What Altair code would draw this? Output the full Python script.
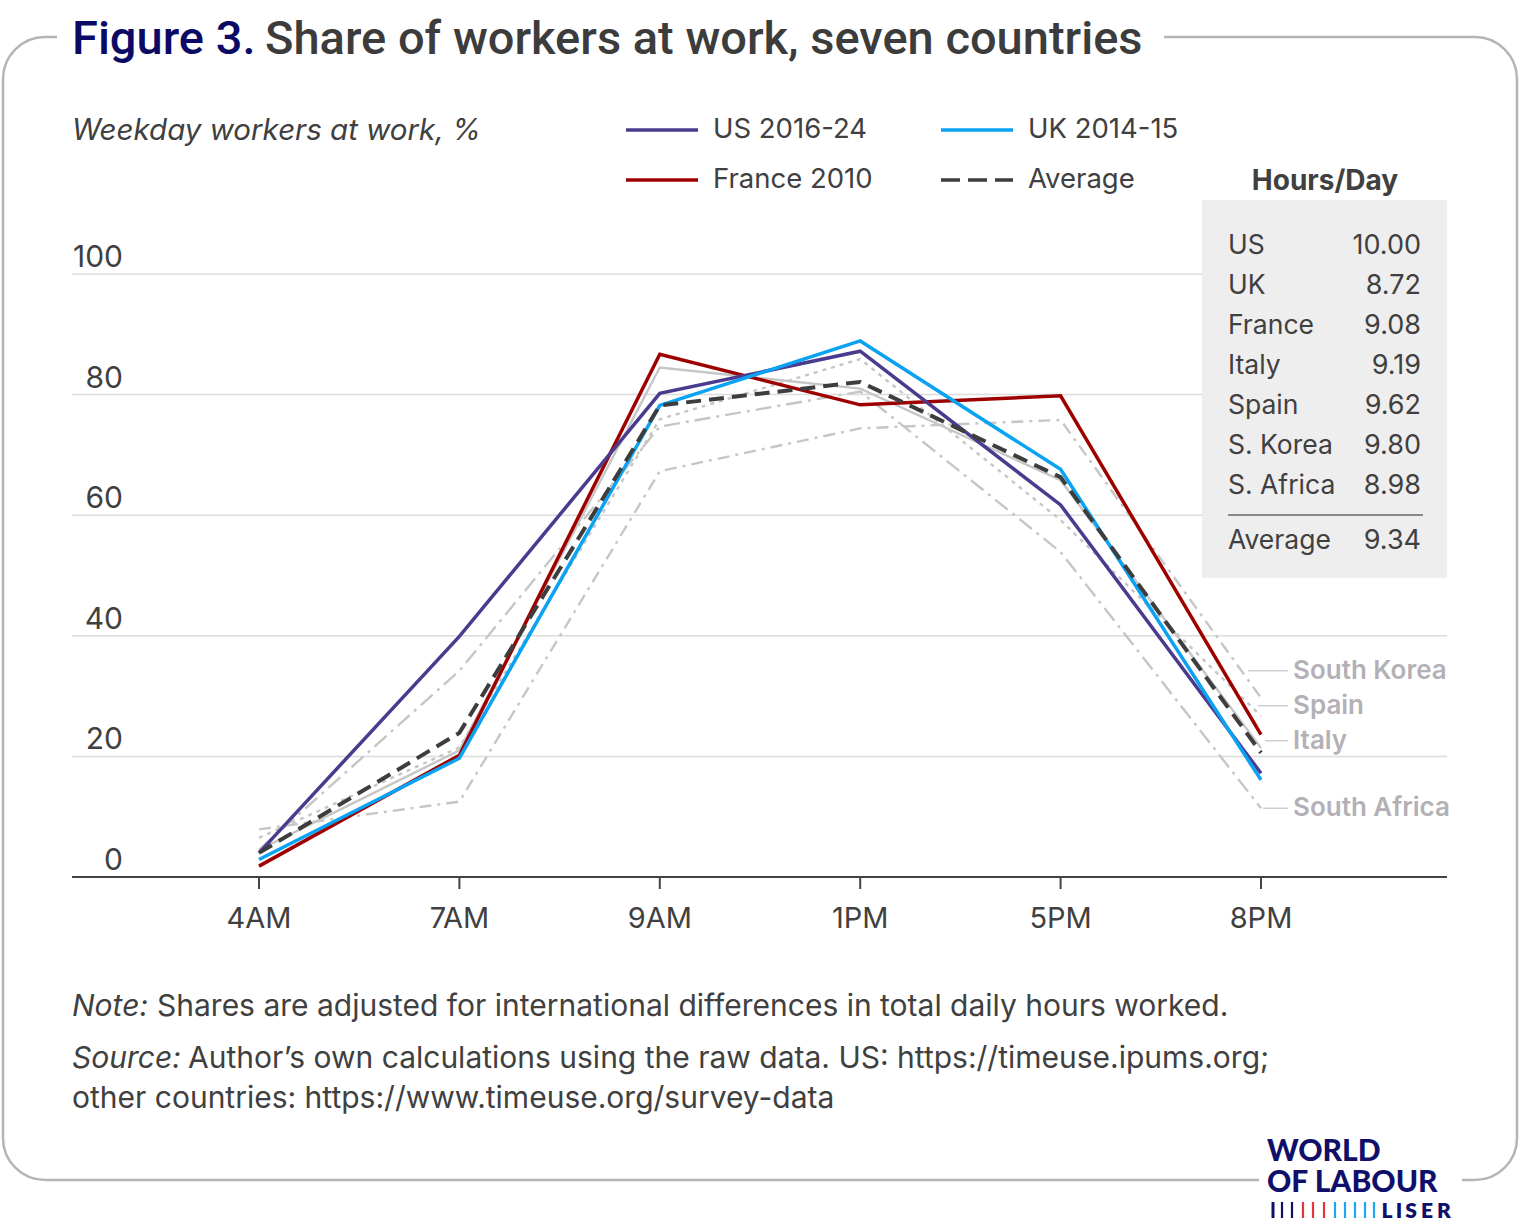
import altair as alt
import pandas as pd

# ---------------- data ----------------
times = ["4AM", "7AM", "9AM", "1PM", "5PM", "8PM"]
us = [4.0, 39.9, 80.2, 87.2, 61.7, 17.2]
uk = [2.9, 19.7, 78.2, 88.9, 67.6, 16.1]
france = [1.8, 20.2, 86.7, 78.3, 79.8, 23.6]
italy = [4.5, 21.0, 84.5, 81.0, 65.8, 21.4]
spain = [6.5, 21.5, 75.9, 85.9, 59.2, 26.7]
south_korea = [7.9, 12.5, 67.3, 74.4, 75.8, 29.7]
south_africa = [4.5, 34.2, 74.7, 80.5, 53.9, 11.4]
average = [4.0, 23.9, 78.2, 82.1, 66.3, 20.6]

y_ticks = [0, 20, 40, 60, 80, 100]

table_names = ["US", "UK", "France", "Italy", "Spain", "S. Korea", "S. Africa"]
table_hours = [10.00, 8.72, 9.08, 9.19, 9.62, 9.80, 8.98]
table_avg_name = "Average"
table_avg = 9.34

grey_labels = ["South Korea", "Spain", "Italy", "South Africa"]
grey_label_values = [34.2, 28.4, 22.6, 11.4]

# ---------------- styles ----------------
FONT = "Inter"
TXT = "#404040"
GREY = "#c6c6c6"
W, H = 1520, 1224

X_SCALE = alt.Scale(type="point", domain=times, range=[259, 1261], padding=0)
Y_SCALE = alt.Scale(domain=[0, 100], range=[877, 274], nice=False, zero=False)

dummy = pd.DataFrame({"a": [0]})


def txt(text, x, y, size=27, color=TXT, align="left", baseline="alphabetic",
        weight="normal", style="normal", font=FONT):
    return alt.Chart(dummy).mark_text(
        text=text, align=align, baseline=baseline, fontSize=size, color=color,
        fontWeight=weight, fontStyle=style, font=font
    ).encode(x=alt.value(x), y=alt.value(y))


def hrule(x1, x2, y, color, width, dash=None):
    kw = dict(color=color, strokeWidth=width)
    if dash:
        kw["strokeDash"] = dash
    return alt.Chart(dummy).mark_rule(**kw).encode(
        x=alt.value(x1), x2=alt.value(x2), y=alt.value(y))


def vrule(x, y1, y2, color, width):
    return alt.Chart(dummy).mark_rule(color=color, strokeWidth=width).encode(
        x=alt.value(x), y=alt.value(y1), y2=alt.value(y2))


layers = []

# border box
layers.append(
    alt.Chart(dummy).mark_rect(fill="white", stroke="#b5b5b5", strokeWidth=2.5,
                               cornerRadius=42).encode(
        x=alt.value(3), x2=alt.value(1517), y=alt.value(37), y2=alt.value(1180))
)
# gaps in border for title and logo
layers.append(alt.Chart(dummy).mark_rect(fill="white").encode(
    x=alt.value(57), x2=alt.value(1164), y=alt.value(10), y2=alt.value(64)))
layers.append(alt.Chart(dummy).mark_rect(fill="white").encode(
    x=alt.value(1259), x2=alt.value(1462), y=alt.value(1130), y2=alt.value(1222)))

# title
layers.append(txt("Figure 3.", 72, 54, size=47, color="#0b0b66", weight=500,
                  font="Roboto"))
layers.append(txt("Share of workers at work, seven countries", 265, 54, size=47,
                  color="#3c3c3c", weight=500, font="Roboto"))

# subtitle
layers.append(txt("Weekday workers at work, %", 72, 140, size=29.5, style="italic"))

# gridlines
grid_df = pd.DataFrame({"v": y_ticks[1:]})
layers.append(alt.Chart(grid_df).mark_rule(color="#dcdcdc", strokeWidth=1.5).encode(
    x=alt.value(72), x2=alt.value(1447),
    y=alt.Y("v:Q", scale=Y_SCALE, axis=None)))

# y labels
ylab_df = pd.DataFrame({"v": y_ticks})
layers.append(alt.Chart(ylab_df).mark_text(
    align="right", baseline="alphabetic", dy=-7, fontSize=30, font=FONT, color=TXT
).encode(x=alt.value(123), y=alt.Y("v:Q", scale=Y_SCALE, axis=None),
         text=alt.Text("v:Q", format="d")))

# hours/day table
layers.append(alt.Chart(dummy).mark_rect(fill="#eeeeee").encode(
    x=alt.value(1202), x2=alt.value(1447), y=alt.value(200), y2=alt.value(578)))
layers.append(txt("Hours/Day", 1325, 190, size=28, weight="bold", align="center"))
tab_df = pd.DataFrame({"row": list(range(len(table_names))),
                       "name": table_names, "hours": table_hours})
ROW_SCALE = alt.Scale(domain=[0, len(table_names) - 1], range=[246, 486], nice=False, zero=False)
layers.append(alt.Chart(tab_df).mark_text(
    align="left", baseline="middle", fontSize=26.5, font=FONT, color=TXT).encode(
    x=alt.value(1228), y=alt.Y("row:Q", scale=ROW_SCALE, axis=None), text="name:N"))
layers.append(alt.Chart(tab_df).mark_text(
    align="right", baseline="middle", fontSize=27, font=FONT, color=TXT).encode(
    x=alt.value(1421), y=alt.Y("row:Q", scale=ROW_SCALE, axis=None),
    text=alt.Text("hours:Q", format=".2f")))
layers.append(hrule(1228, 1423, 515, "#666666", 1.5))
avg_df = pd.DataFrame({"name": [table_avg_name], "hours": [table_avg]})
layers.append(alt.Chart(avg_df).mark_text(
    align="left", baseline="middle", fontSize=26.5, font=FONT, color=TXT).encode(
    x=alt.value(1228), y=alt.value(541), text="name:N"))
layers.append(alt.Chart(avg_df).mark_text(
    align="right", baseline="middle", fontSize=27, font=FONT, color=TXT).encode(
    x=alt.value(1421), y=alt.value(541), text=alt.Text("hours:Q", format=".2f")))

# series lines
series = [
    ("Italy", italy, dict(color=GREY, strokeWidth=2.4)),
    ("Spain", spain, dict(color=GREY, strokeWidth=2.4, strokeDash=[4, 5])),
    ("South Korea", south_korea, dict(color=GREY, strokeWidth=2.4, strokeDash=[12, 6, 3, 6])),
    ("South Africa", south_africa, dict(color=GREY, strokeWidth=2.4, strokeDash=[16, 6, 3, 6])),
    ("France 2010", france, dict(color="#9e0000", strokeWidth=3.5)),
    ("US 2016-24", us, dict(color="#4b3b8f", strokeWidth=3.5)),
    ("UK 2014-15", uk, dict(color="#0aa2f2", strokeWidth=3.5)),
    ("Average", average, dict(color="#3d3d3d", strokeWidth=4, strokeDash=[15, 8])),
]
for name, vals, style in series:
    df = pd.DataFrame({"t": times, "v": vals, "s": name})
    layers.append(alt.Chart(df).mark_line(strokeJoin="miter", **style).encode(
        x=alt.X("t:O", scale=X_SCALE, sort=times, axis=None),
        y=alt.Y("v:Q", scale=Y_SCALE, axis=None)))

# x axis
layers.append(hrule(72, 1447, 877, "#444444", 2))
xlab_df = pd.DataFrame({"t": times})
layers.append(alt.Chart(xlab_df).mark_rule(color="#444444", strokeWidth=2).encode(
    x=alt.X("t:O", scale=X_SCALE, sort=times, axis=None),
    y=alt.value(877), y2=alt.value(889)))
layers.append(alt.Chart(xlab_df).mark_text(
    align="center", baseline="alphabetic", fontSize=29, font=FONT, color=TXT).encode(
    x=alt.X("t:O", scale=X_SCALE, sort=times, axis=None), y=alt.value(928), text="t:N"))

# grey series labels with leaders
lab_df = pd.DataFrame({"name": grey_labels, "v": grey_label_values,
                       "x0": [1248, 1258, 1265, 1263]})
layers.append(alt.Chart(lab_df).mark_rule(color="#cfcfcf", strokeWidth=1.5).encode(
    x=alt.X("x0:Q", scale=None), x2=alt.value(1288),
    y=alt.Y("v:Q", scale=Y_SCALE, axis=None)))
layers.append(alt.Chart(lab_df).mark_text(
    align="left", baseline="middle", fontSize=26, font=FONT, fontWeight=600,
    color="#b3b1b5").encode(
    x=alt.value(1293), y=alt.Y("v:Q", scale=Y_SCALE, axis=None), text="name:N"))

# legend
legend_items = [("US 2016-24", 626, 130, "#4b3b8f", None),
                ("UK 2014-15", 941, 130, "#0aa2f2", None),
                ("France 2010", 626, 180, "#9e0000", None),
                ("Average", 941, 180, "#3d3d3d", [19, 8])]
for lbl, lx, ly, col, dash in legend_items:
    layers.append(hrule(lx, lx + 72, ly, col, 3.5, dash))
    layers.append(txt(lbl, lx + 87, ly, size=27.5, baseline="middle"))

# notes
layers.append(txt("Note:", 72, 1016, size=30, style="italic"))
layers.append(txt("Shares are adjusted for international differences in total daily hours worked.",
                  157, 1016, size=30))
layers.append(txt("Source:", 72, 1068, size=30, style="italic"))
layers.append(txt("Author\u2019s own calculations using the raw data. US: https://timeuse.ipums.org;",
                  188, 1068, size=30))
layers.append(txt("other countries: https://www.timeuse.org/survey-data", 72, 1108, size=30))

# logo
NAVY = "#10106a"
layers.append(txt("WORLD", 1267, 1161, size=30, color=NAVY, weight=900, font="Lato"))
layers.append(txt("OF LABOUR", 1267, 1192, size=30, color=NAVY, weight=900, font="Lato"))
bar_x = [1273, 1282, 1292, 1303, 1313, 1324, 1335, 1345, 1355, 1365, 1374]
bar_c = [NAVY] * 3 + ["#e3343f"] * 3 + ["#1ea7f0"] * 5
for bx, bc in zip(bar_x, bar_c):
    layers.append(vrule(bx, 1202, 1218, bc, 3 if bx == 1273 else 2.2))
for ch, cx in zip("LISER", [1387, 1399, 1411, 1427, 1444]):
    layers.append(txt(ch, cx, 1218, size=21, color=NAVY, weight=800, font="Lato",
                      align="center"))

chart = alt.layer(*layers).resolve_scale(x="independent", y="independent").properties(
    width=W, height=H, padding=0, autosize=alt.AutoSizeParams(type="none")
).configure_view(stroke=None)

chart.save("out.html", embed_options={"renderer": "svg", "actions": False})
